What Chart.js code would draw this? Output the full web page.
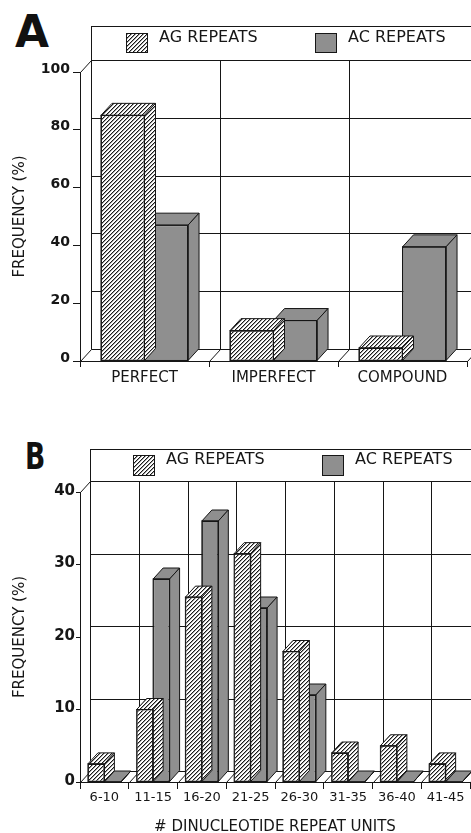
<!DOCTYPE html>
<html>
<head>
<meta charset="utf-8">
<script src="https://cdn.jsdelivr.net/npm/chart.js@4.4.1/dist/chart.umd.min.js"></script>
<style>
html,body{margin:0;padding:0;width:471px;height:833px;overflow:hidden;background:#fff;}
.wrap{position:absolute;left:0;}
.panel{position:absolute;font-family:"DejaVu Sans";font-weight:bold;color:#111;line-height:1;transform-origin:0 0;}
</style>
</head>
<body>
<div class="panel" style="left:15px;top:10px;font-size:44px;">A</div>
<div class="panel" style="left:25px;top:437px;font-size:38px;transform:scaleX(0.7);">B</div>
<div class="wrap" style="top:0;"><canvas id="ca" width="500" height="400"></canvas></div>
<div class="wrap" style="top:400px;"><canvas id="cb" width="500" height="440"></canvas></div>
<script>
// ---- data ----
const seriesLabels = ['AG REPEATS', 'AC REPEATS'];

const categoriesA = ['PERFECT', 'IMPERFECT', 'COMPOUND'];
const agValuesA = [85, 10.5, 4.5];
const acValuesA = [47, 14, 39.5];
const yTicksA = [0, 20, 40, 60, 80, 100];

const categoriesB = ['6-10', '11-15', '16-20', '21-25', '26-30', '31-35', '36-40', '41-45'];
const agValuesB = [2.5, 10, 25.5, 31.5, 18, 4, 5, 2.5];
const acValuesB = [0, 28, 36, 24, 12, 0, 0, 0];
const yTicksB = [0, 10, 20, 30, 40];

const xTitleB = '# DINUCLEOTIDE REPEAT UNITS';
const yTitle = 'FREQUENCY (%)';

// ---- styles ----
const INK = '#161616';
const GRAY = '#8f8f8f';
const FONT = 'DejaVu Sans';

function makeHatch() {
  const c = document.createElement('canvas');
  c.width = 4; c.height = 4;
  const g = c.getContext('2d');
  const img = g.createImageData(4, 4);
  for (let y = 0; y < 4; y++) {
    for (let x = 0; x < 4; x++) {
      const i = (y * 4 + x) * 4;
      const k = (x + y) % 4;
      const v = k === 0 ? 25 : (k === 1 ? 160 : 255);
      img.data[i] = img.data[i + 1] = img.data[i + 2] = v;
      img.data[i + 3] = 255;
    }
  }
  g.putImageData(img, 0, 0);
  return g.createPattern(c, 'repeat');
}
const HATCH = makeHatch();

function line(ctx, x1, y1, x2, y2) {
  ctx.beginPath(); ctx.moveTo(x1, y1); ctx.lineTo(x2, y2); ctx.stroke();
}
const px = v => Math.round(v) + 0.5;

const depth3d = {
  id: 'depth3d',
  beforeDatasetsDraw(chart, args, o) {
    const {ctx, chartArea, scales} = chart;
    const {left, right, top, bottom} = chartArea;
    const xs = scales.x, ys = scales.y;
    const dx = o.dx, dy = o.dy;
    const n = chart.data.labels.length;
    const step = xs.getPixelForValue(1) - xs.getPixelForValue(0);
    const bounds = [];
    for (let i = 0; i <= n; i++) bounds.push(xs.getPixelForValue(0) - step / 2 + i * step);
    ctx.save();
    ctx.strokeStyle = INK;
    ctx.lineWidth = 1;
    // back wall horizontal grid
    ys.ticks.forEach(t => {
      const yy = px(ys.getPixelForValue(t.value) + dy);
      line(ctx, px(left + dx), yy, right + dx, yy);
    });
    // back wall vertical grid
    bounds.forEach(b => {
      line(ctx, px(b + dx), px(top + dy), px(b + dx), px(bottom + dy));
    });
    // floor diagonals
    bounds.forEach(b => {
      line(ctx, px(b), px(bottom), px(b + dx), px(bottom + dy));
    });
    // left wall top edge
    line(ctx, px(left), px(top), px(left + dx), px(top + dy));
    // legend box
    const ly = top + dy - o.legendH;
    ctx.strokeRect(px(left + dx), px(ly), right - left + 40, o.legendH);
    // legend items
    ctx.font = o.legendFont;
    ctx.textBaseline = 'middle';
    ctx.textAlign = 'left';
    chart.data.datasets.forEach((ds, i) => {
      const bx = Math.round(left + dx + o.itemX[i]);
      const by = Math.round(ly + o.boxY);
      ctx.fillStyle = ds.backgroundColor;
      ctx.fillRect(bx, by, o.boxW, o.boxH);
      ctx.strokeRect(bx + 0.5, by + 0.5, o.boxW, o.boxH);
      ctx.fillStyle = INK;
      ctx.fillText(ds.label, bx + o.boxW + o.gap, ly + o.textY);
    });
    ctx.restore();
  },
  afterDatasetDraw(chart, args, o) {
    const {ctx} = chart;
    const ds = chart.data.datasets[args.index];
    const dx = o.dx, dy = o.dy;
    ctx.save();
    ctx.strokeStyle = INK;
    ctx.lineWidth = 1;
    ctx.lineJoin = 'miter';
    args.meta.data.forEach(el => {
      const p = el.getProps(['x', 'y', 'base', 'width'], true);
      const x1 = p.x - p.width / 2, x2 = p.x + p.width / 2;
      const t = Math.min(p.y, p.base), b = p.base;
      ctx.fillStyle = ds.backgroundColor;
      // top face
      ctx.beginPath();
      ctx.moveTo(x1, t); ctx.lineTo(x1 + dx, t + dy); ctx.lineTo(x2 + dx, t + dy); ctx.lineTo(x2, t); ctx.closePath();
      ctx.fill(); ctx.stroke();
      // side face
      ctx.beginPath();
      ctx.moveTo(x2, t); ctx.lineTo(x2 + dx, t + dy); ctx.lineTo(x2 + dx, b + dy); ctx.lineTo(x2, b); ctx.closePath();
      ctx.fill(); ctx.stroke();
      // front outline
      ctx.strokeRect(x1, t, x2 - x1, b - t);
    });
    ctx.restore();
  }
};

function makeChart(id, cfg) {
  return new Chart(document.getElementById(id), {
    type: 'bar',
    data: {
      labels: cfg.labels,
      datasets: [
        {label: seriesLabels[0], data: cfg.ag, backgroundColor: HATCH, borderColor: INK, borderWidth: 1, borderSkipped: false},
        {label: seriesLabels[1], data: cfg.ac, backgroundColor: GRAY, borderColor: INK, borderWidth: 1, borderSkipped: false}
      ]
    },
    options: {
      responsive: false,
      animation: false,
      devicePixelRatio: 1,
      events: [],
      layout: {padding: cfg.padding},
      datasets: {bar: {barPercentage: 1, categoryPercentage: 0.675}},
      plugins: {
        legend: {display: false},
        tooltip: {enabled: false},
        depth3d: cfg.depth
      },
      scales: {
        x: {
          grid: {display: true, drawOnChartArea: false, drawTicks: true, tickLength: cfg.xTick, color: INK, offset: true},
          border: {display: true, color: INK, width: 1},
          ticks: {color: INK, font: {family: FONT, size: cfg.xFont, weight: cfg.xWeight}, padding: cfg.xPad, maxRotation: 0, autoSkip: false},
          title: cfg.xTitle ? {display: true, text: cfg.xTitle, color: INK, font: {family: FONT, size: 15}, padding: {top: 0, bottom: cfg.xTitlePad}} : {display: false},
          afterFit: s => { s.height = cfg.xHeight; }
        },
        y: {
          min: cfg.yTicks[0],
          max: cfg.yTicks[cfg.yTicks.length - 1],
          afterBuildTicks: s => { s.ticks = cfg.yTicks.map(v => ({value: v})); },
          grid: {display: true, drawOnChartArea: false, drawTicks: true, tickLength: cfg.yTick, color: INK},
          border: {display: true, color: INK, width: 1},
          ticks: {color: INK, font: {family: FONT, size: cfg.yFont, weight: 'bold'}, padding: cfg.yPad, labelOffset: cfg.yLabelOffset},
          title: {display: true, text: yTitle, color: INK, font: {family: FONT, size: 15}, padding: {top: 11, bottom: 0}},
          afterFit: s => { s.width = 80; }
        }
      }
    },
    plugins: [depth3d]
  });
}

makeChart('ca', {
  labels: categoriesA, ag: agValuesA, ac: acValuesA, yTicks: yTicksA,
  padding: {top: 72, right: 33, bottom: 0, left: 0},
  xHeight: 39, xTick: 6, xPad: 2, xFont: 15, xWeight: 'normal',
  yTick: 7, yPad: 3, yFont: 14, yLabelOffset: -3,
  depth: {dx: 11, dy: -12, legendH: 34, itemX: [35, 224], boxY: 7, boxW: 21, boxH: 19, gap: 12, textY: 12, legendFont: '16px "DejaVu Sans"'}
});

makeChart('cb', {
  labels: categoriesB, ag: agValuesB, ac: acValuesB, yTicks: yTicksB,
  padding: {top: 92, right: 30, bottom: 0, left: 0},
  xHeight: 58, xTick: 7, xPad: 1, xFont: 13, xWeight: 'normal',
  xTitle: xTitleB, xTitlePad: 4,
  yTick: 4, yPad: 1, yFont: 15, yLabelOffset: -1,
  depth: {dx: 10, dy: -11, legendH: 32, itemX: [43, 232], boxY: 6, boxW: 21, boxH: 20, gap: 12, textY: 11, legendFont: '16px "DejaVu Sans"'}
});
</script>
</body>
</html>
